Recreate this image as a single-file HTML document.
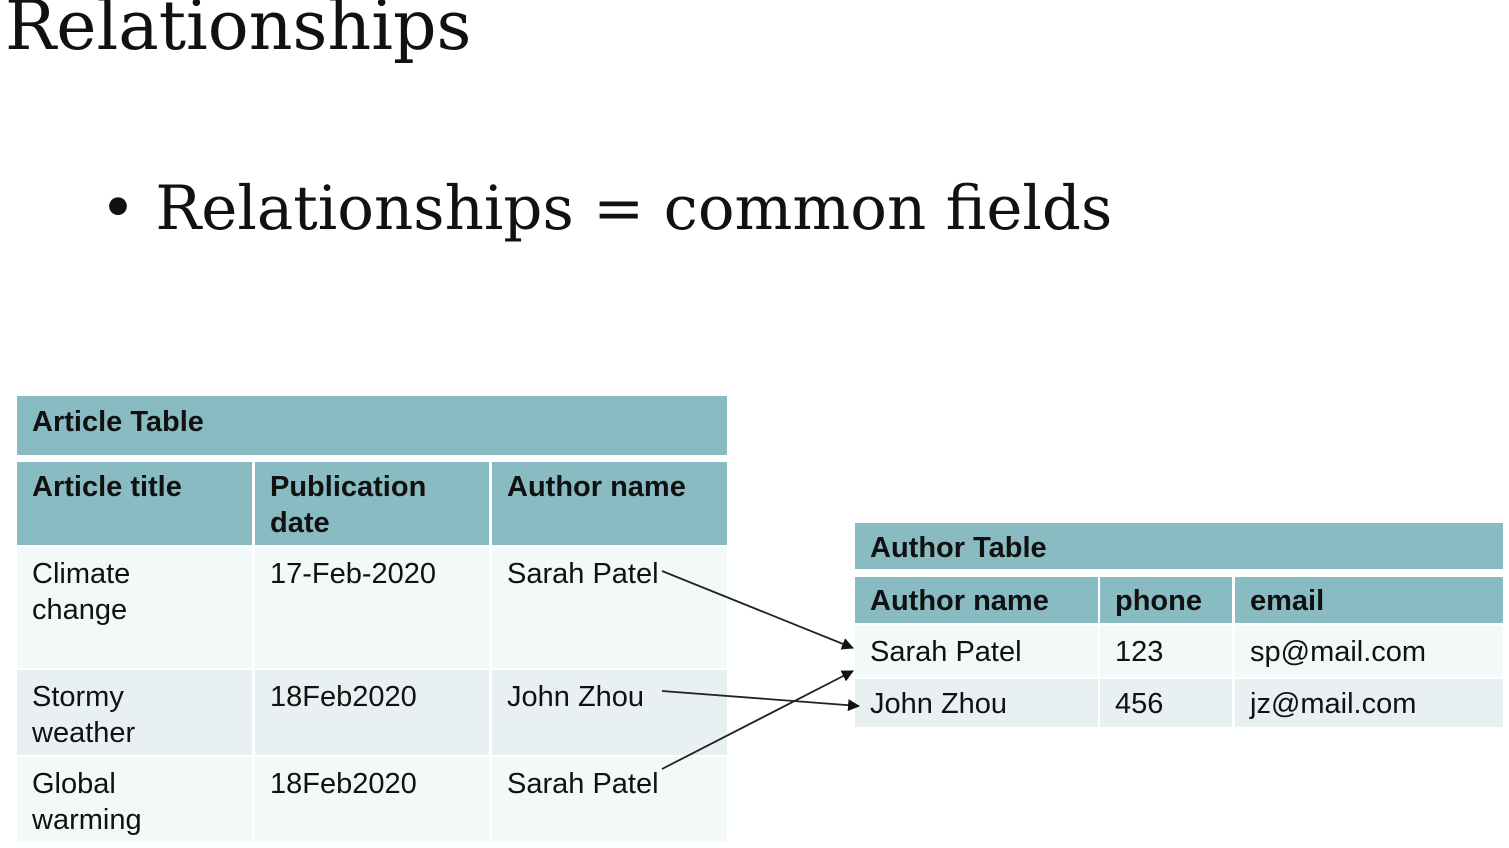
<!DOCTYPE html>
<html><head><meta charset="utf-8"><style>
body{margin:0;width:1509px;height:848px;background:#fff;position:relative;overflow:hidden;font-family:"Liberation Sans",Arial,sans-serif;color:#111}
.a{position:absolute;box-sizing:border-box}
.h{background:#89bcc2;font-weight:bold;font-size:29px;padding:7px 15px;line-height:36px;white-space:nowrap}
.c{font-size:29px;padding:9px 15px;line-height:36px;white-space:nowrap}
.l{background:#f3f8f9}.d{background:#e9f0f2}
</style></head><body>
<div class="a" style="left:5px;top:-18px;font-family:'DejaVu Serif',serif;font-size:68px;line-height:90px;white-space:nowrap">Relationships</div>
<div class="a" style="left:100px;top:169px;font-family:'DejaVu Serif',serif;font-size:61px;line-height:80px;white-space:nowrap">• Relationships = common fields</div>

<div>
<div class="a h" style="left:17px;top:396px;width:710px;height:59px;padding-top:8px">Article Table</div>
<div class="a h" style="left:17px;top:462px;width:235px;height:83px">Article title</div>
<div class="a h" style="left:255px;top:462px;width:234px;height:83px">Publication<br>date</div>
<div class="a h" style="left:492px;top:462px;width:235px;height:83px">Author name</div>
<div class="a c l" style="left:17px;top:547px;width:235px;height:121px">Climate<br>change</div>
<div class="a c l" style="left:255px;top:547px;width:234px;height:121px">17-Feb-2020</div>
<div class="a c l" style="left:492px;top:547px;width:235px;height:121px">Sarah Patel</div>
<div class="a c d" style="left:17px;top:670px;width:235px;height:85px">Stormy<br>weather</div>
<div class="a c d" style="left:255px;top:670px;width:234px;height:85px">18Feb2020</div>
<div class="a c d" style="left:492px;top:670px;width:235px;height:85px">John Zhou</div>
<div class="a c l" style="left:17px;top:757px;width:235px;height:85px">Global<br>warming</div>
<div class="a c l" style="left:255px;top:757px;width:234px;height:85px">18Feb2020</div>
<div class="a c l" style="left:492px;top:757px;width:235px;height:85px">Sarah Patel</div>
</div>

<div>
<div class="a h" style="left:855px;top:523px;width:648px;height:46px;padding-top:7px">Author Table</div>
<div class="a h" style="left:855px;top:577px;width:243px;height:46px;padding-top:6px">Author name</div>
<div class="a h" style="left:1100px;top:577px;width:132px;height:46px;padding-top:6px">phone</div>
<div class="a h" style="left:1235px;top:577px;width:268px;height:46px;padding-top:6px">email</div>
<div class="a c l" style="left:855px;top:625px;width:243px;height:52px;padding-top:9px">Sarah Patel</div>
<div class="a c l" style="left:1100px;top:625px;width:132px;height:52px;padding-top:9px">123</div>
<div class="a c l" style="left:1235px;top:625px;width:268px;height:52px;padding-top:9px">sp@mail.com</div>
<div class="a c d" style="left:855px;top:679px;width:243px;height:48px;padding-top:7px">John Zhou</div>
<div class="a c d" style="left:1100px;top:679px;width:132px;height:48px;padding-top:7px">456</div>
<div class="a c d" style="left:1235px;top:679px;width:268px;height:48px;padding-top:7px">jz@mail.com</div>
</div>

<svg class="a" style="left:0;top:0" width="1509" height="848">
<defs><marker id="ah" markerWidth="12" markerHeight="12" refX="11" refY="6" orient="auto" markerUnits="userSpaceOnUse"><path d="M0,0 L12,6 L0,12z" fill="#111"/></marker></defs>
<line x1="662" y1="571" x2="853" y2="648" stroke="#222" stroke-width="1.8" marker-end="url(#ah)"/>
<line x1="662" y1="691" x2="859" y2="706" stroke="#222" stroke-width="1.8" marker-end="url(#ah)"/>
<line x1="662" y1="769" x2="853" y2="671" stroke="#222" stroke-width="1.8" marker-end="url(#ah)"/>
</svg>
</body></html>
